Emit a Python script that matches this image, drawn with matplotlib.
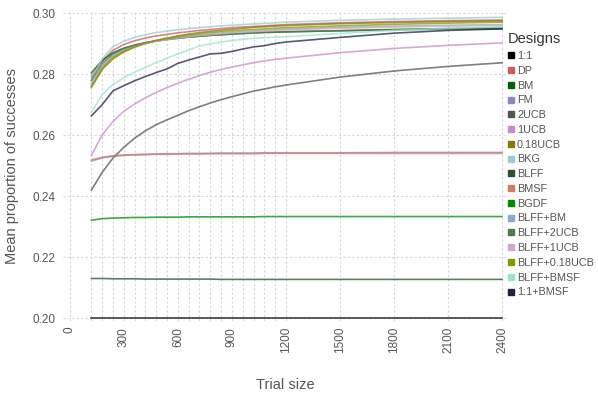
"""Mean proportion of successes by trial size for each design."""

import matplotlib

matplotlib.use("Agg")
import matplotlib.pyplot as plt
from matplotlib.lines import Line2D

plt.rcParams["font.family"] = ["Liberation Sans", "DejaVu Sans"]

trial_sizes = [120, 180, 240, 300, 360, 420, 480, 540, 600, 660, 720, 780, 840,
               900, 960, 1020, 1080, 1140, 1200, 1500, 1800, 2100, 2400]

designs = ["1:1", "DP", "BM", "FM", "2UCB", "1UCB", "0.18UCB", "BKG", "BLFF",
           "BMSF", "BGDF", "BLFF+BM", "BLFF+2UCB", "BLFF+1UCB", "BLFF+0.18UCB",
           "BLFF+BMSF", "1:1+BMSF"]

colors = ["#000000", "#cd5c5c", "#006400", "#8888cc", "#555555", "#cc88cc",
          "#808000", "#99cccc", "#2f4f2f", "#cd7f62", "#008b00", "#8aaad0",
          "#557755", "#ccaacc", "#889900", "#99e6cc", "#222244"]

one_to_one = [0.2000] * 23
dp = [0.2791, 0.2842, 0.2878, 0.2897, 0.2909, 0.2918, 0.2925, 0.2930, 0.2935, 0.2939, 0.2943, 0.2946,
      0.2949, 0.2952, 0.2954, 0.2956, 0.2958, 0.2960, 0.2962, 0.2968, 0.2972, 0.2975, 0.2977]
bm = [0.2804, 0.2845, 0.2870, 0.2885, 0.2895, 0.2903, 0.2909, 0.2914, 0.2918, 0.2921, 0.2924, 0.2927,
      0.2929, 0.2931, 0.2933, 0.2935, 0.2936, 0.2937, 0.2938, 0.2942, 0.2946, 0.2949, 0.2951]
fm = [0.2515, 0.2525, 0.2531, 0.2534, 0.2536, 0.2537, 0.2538, 0.2539, 0.2539, 0.2540, 0.2540, 0.2540,
      0.2541, 0.2541, 0.2541, 0.2541, 0.2542, 0.2542, 0.2542, 0.2542, 0.2543, 0.2543, 0.2543]
ucb2 = [0.2420, 0.2478, 0.2525, 0.2560, 0.2590, 0.2614, 0.2634, 0.2650, 0.2665, 0.2680, 0.2693, 0.2705,
        0.2716, 0.2726, 0.2735, 0.2744, 0.2751, 0.2758, 0.2764, 0.2790, 0.2810, 0.2825, 0.2837]
ucb1 = [0.2534, 0.2600, 0.2645, 0.2678, 0.2702, 0.2722, 0.2740, 0.2756, 0.2770, 0.2783, 0.2795, 0.2806,
        0.2815, 0.2823, 0.2830, 0.2837, 0.2843, 0.2848, 0.2852, 0.2870, 0.2884, 0.2894, 0.2902]
ucb018 = [0.2756, 0.2815, 0.2850, 0.2872, 0.2888, 0.2900, 0.2910, 0.2918, 0.2925, 0.2931, 0.2936, 0.2940,
          0.2944, 0.2947, 0.2950, 0.2953, 0.2955, 0.2957, 0.2959, 0.2965, 0.2969, 0.2972, 0.2974]
bkg = [0.2780, 0.2850, 0.2890, 0.2908, 0.2920, 0.2929, 0.2936, 0.2941, 0.2945, 0.2949, 0.2952, 0.2955,
       0.2958, 0.2960, 0.2962, 0.2964, 0.2966, 0.2968, 0.2970, 0.2976, 0.2980, 0.2983, 0.2986]
blff = [0.2130, 0.2130, 0.2129, 0.2129, 0.2129, 0.2128, 0.2128, 0.2128, 0.2128, 0.2128, 0.2128, 0.2128,
        0.2127, 0.2127, 0.2127, 0.2127, 0.2127, 0.2127, 0.2127, 0.2127, 0.2127, 0.2127, 0.2127]
bmsf = [0.2519, 0.2527, 0.2532, 0.2534, 0.2535, 0.2536, 0.2537, 0.2537, 0.2538, 0.2538, 0.2538, 0.2539,
        0.2539, 0.2539, 0.2539, 0.2539, 0.2540, 0.2540, 0.2540, 0.2540, 0.2540, 0.2540, 0.2540]
bgdf = [0.2321, 0.2326, 0.2328, 0.2329, 0.2330, 0.2330, 0.2331, 0.2331, 0.2331, 0.2332, 0.2332, 0.2332,
        0.2332, 0.2332, 0.2332, 0.2332, 0.2333, 0.2333, 0.2333, 0.2333, 0.2333, 0.2333, 0.2333]
blff_bm = [0.2771, 0.2828, 0.2862, 0.2880, 0.2893, 0.2902, 0.2909, 0.2915, 0.2920, 0.2924, 0.2928, 0.2931,
           0.2934, 0.2937, 0.2939, 0.2941, 0.2943, 0.2945, 0.2947, 0.2953, 0.2957, 0.2960, 0.2962]
blff_2ucb = [0.2780, 0.2835, 0.2866, 0.2883, 0.2894, 0.2902, 0.2908, 0.2913, 0.2917, 0.2921, 0.2924, 0.2927,
             0.2929, 0.2931, 0.2933, 0.2935, 0.2937, 0.2938, 0.2939, 0.2942, 0.2945, 0.2947, 0.2948]
blff_1ucb = [0.2768, 0.2825, 0.2858, 0.2877, 0.2890, 0.2900, 0.2907, 0.2913, 0.2918, 0.2922, 0.2926, 0.2929,
             0.2932, 0.2935, 0.2937, 0.2939, 0.2941, 0.2943, 0.2945, 0.2950, 0.2954, 0.2957, 0.2959]
blff_018ucb = [0.2760, 0.2820, 0.2855, 0.2875, 0.2890, 0.2901, 0.2910, 0.2917, 0.2923, 0.2928, 0.2932, 0.2936,
               0.2939, 0.2942, 0.2944, 0.2946, 0.2948, 0.2950, 0.2952, 0.2958, 0.2963, 0.2967, 0.2970]
blff_bmsf = [0.2675, 0.2733, 0.2766, 0.2788, 0.2806, 0.2822, 0.2838, 0.2852, 0.2866, 0.2879, 0.2892, 0.2899,
             0.2905, 0.2910, 0.2914, 0.2917, 0.2919, 0.2921, 0.2922, 0.2933, 0.2943, 0.2950, 0.2955]
one_bmsf = [0.2663, 0.2700, 0.2745, 0.2762, 0.2778, 0.2792, 0.2805, 0.2817, 0.2835, 0.2846, 0.2856, 0.2866,
            0.2868, 0.2874, 0.2882, 0.2889, 0.2893, 0.2900, 0.2905, 0.2920, 0.2934, 0.2943, 0.2948]

series = [one_to_one, dp, bm, fm, ucb2, ucb1, ucb018, bkg, blff, bmsf, bgdf,
          blff_bm, blff_2ucb, blff_1ucb, blff_018ucb, blff_bmsf, one_bmsf]

text_color = "#555555"
grid_color = "#d4d4e4"

fig = plt.figure(figsize=(5.98, 3.99), dpi=100)
ax = fig.add_axes([0.105, 0.195, 0.743, 0.78])

for values, color in zip(series, colors):
    ax.plot(trial_sizes, values, color=color, linewidth=1.2, alpha=0.75)

ax.set_xlim(-39, 2428)
ax.set_ylim(0.199, 0.301)
ax.set_xticks(range(0, 2401, 300))
ax.set_xticks(trial_sizes, minor=True)
ax.set_yticks([0.20, 0.22, 0.24, 0.26, 0.28, 0.30])
ax.set_yticklabels([f"{v:.2f}" for v in ax.get_yticks()])
ax.tick_params(axis="x", which="major", labelrotation=90, length=0, pad=4,
               labelsize=8.5, labelcolor=text_color)
ax.tick_params(axis="x", which="minor", length=0)
ax.tick_params(axis="y", length=0, pad=5, labelsize=8.5, labelcolor=text_color)
ax.grid(True, which="both", axis="x", color=grid_color, linestyle=(0, (2, 2)), linewidth=0.8)
ax.grid(True, which="major", axis="y", color=grid_color, linestyle=(0, (2, 2)), linewidth=0.8)
ax.set_axisbelow(True)
for spine in ax.spines.values():
    spine.set_visible(False)

ax.set_xlabel("Trial size", fontsize=10.5, color=text_color, labelpad=18)
ax.set_ylabel("Mean proportion of successes", fontsize=10.5, color=text_color, labelpad=10)

handles = [Line2D([], [], marker="s", linestyle="none", markersize=5, color=c) for c in colors]
legend = fig.legend(handles, designs, title="Designs", loc="upper left",
                    bbox_to_anchor=(0.842, 0.93), frameon=False, fontsize=7.8,
                    title_fontsize=10.5, handlelength=0.5, handletextpad=0.35,
                    labelspacing=0.44, borderaxespad=0, labelcolor=text_color)
legend.get_title().set_color("#333333")
legend._legend_box.align = "left"

fig.savefig("out.png", dpi=100)
